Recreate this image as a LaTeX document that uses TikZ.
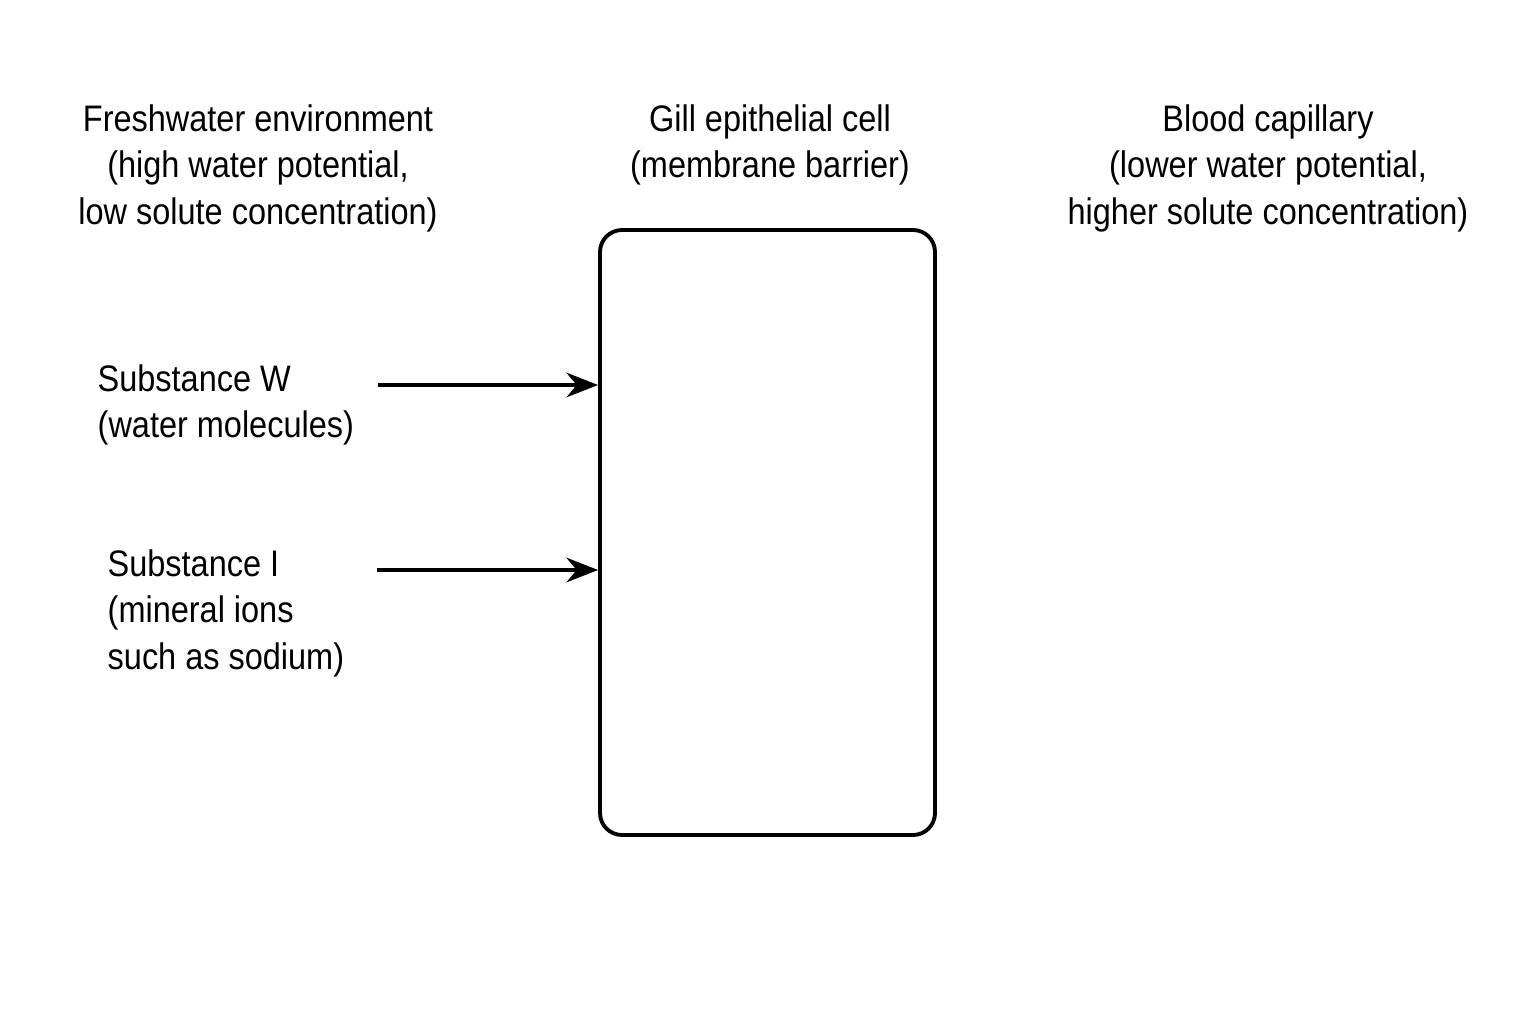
\documentclass[tikz,border=0pt]{standalone}
\usepackage{fontspec}
\setmainfont{Liberation Sans}[FakeStretch=0.88]
\usetikzlibrary{arrows.meta}
\begin{document}
\begin{tikzpicture}[
  lbl/.style={font=\fontsize{10.5}{13.2}\selectfont, align=center, inner sep=0pt},
  lbll/.style={font=\fontsize{10.5}{13.2}\selectfont, align=left, inner sep=0pt, anchor=north west},
  arr/.style={line width=1.1pt, -{Stealth[length=9pt,width=7pt]}}
]
\useasboundingbox (0,0) rectangle (15.36,10.24);
\node[lbl, anchor=north] (env) at (2.58,9.2) {Freshwater environment\\(high water potential,\\low solute concentration)};
\node[lbl, anchor=north] (gill) at (7.70,9.2) {Gill epithelial cell\\(membrane barrier)};
\node[lbl, anchor=north] (blood) at (12.68,9.2) {Blood capillary\\(lower water potential,\\higher solute concentration)};
\node[draw, line width=1.1pt, rounded corners=0.22cm, minimum width=3.35cm, minimum height=6.05cm] (cell) at (7.675,4.915) {};
\node[lbll] (w) at (0.97,6.6) {Substance W\\(water molecules)};
\node[lbll] (i) at (1.07,4.75) {Substance I\\(mineral ions\\such as sodium)};
\coordinate (a1) at (3.78,6.39);
\coordinate (a2) at (3.77,4.54);
\draw[arr] (a1) -- (cell.west |- a1);
\draw[arr] (a2) -- (cell.west |- a2);
\end{tikzpicture}
\end{document}
